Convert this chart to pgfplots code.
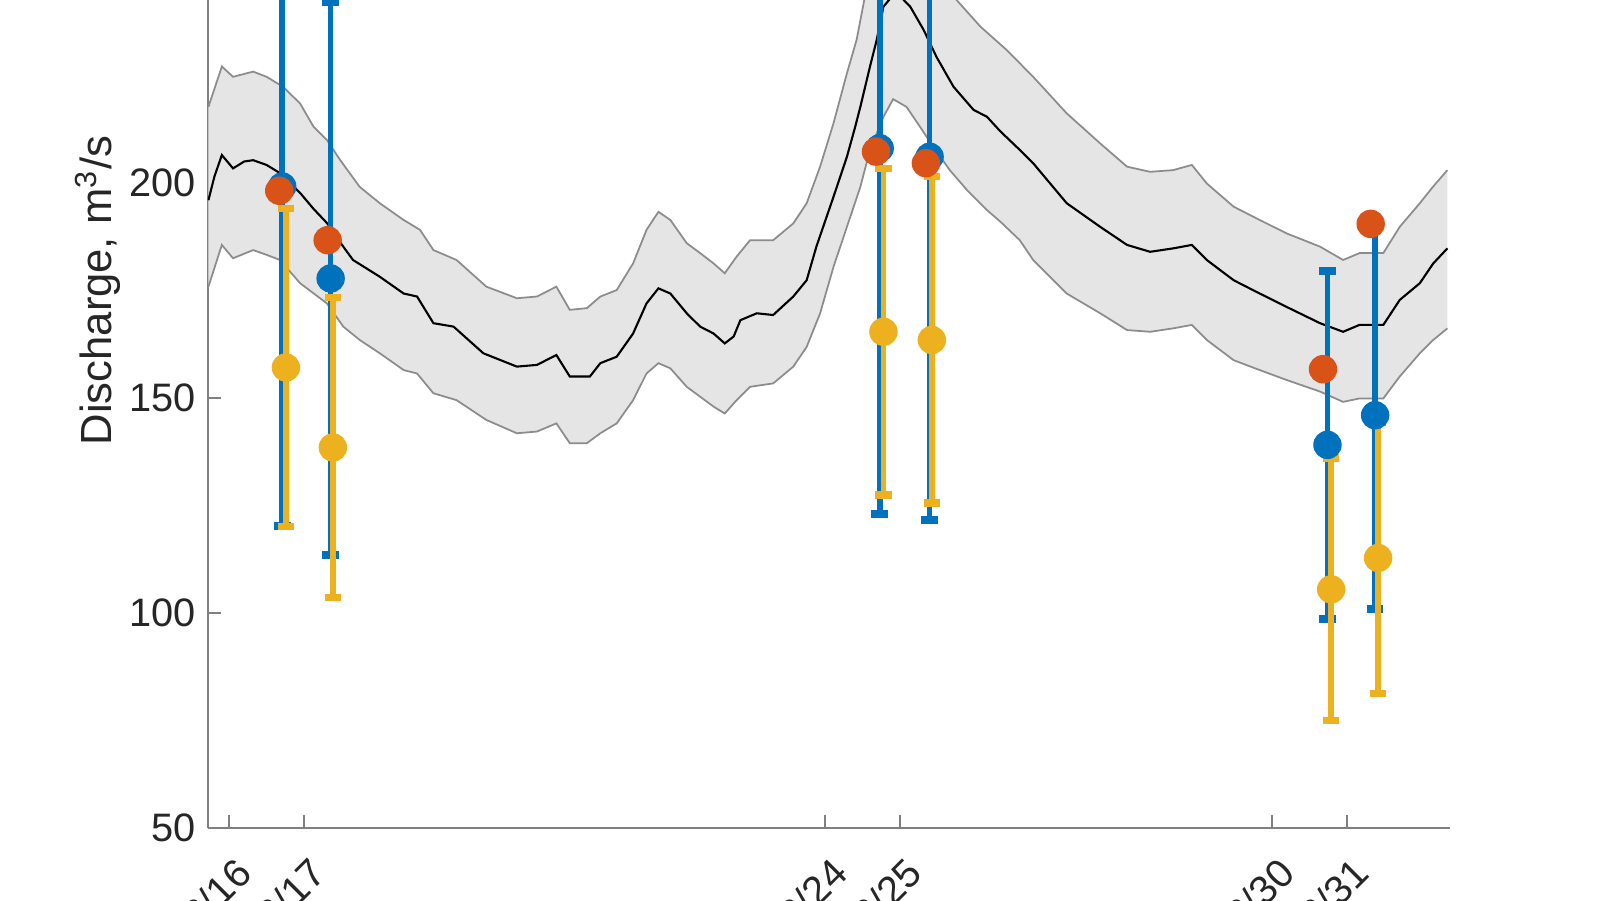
\documentclass[border=0pt]{standalone}
\usepackage{fontspec}
\setmainfont{Liberation Sans}
\usepackage{pgfplots}
\pgfplotsset{compat=1.18}
\definecolor{mblue}{rgb}{0,0.447,0.741}
\definecolor{morange}{rgb}{0.85,0.325,0.098}
\definecolor{myellow}{rgb}{0.929,0.694,0.125}
\definecolor{bandfill}{RGB}{229,229,229}
\definecolor{bandedge}{RGB}{140,140,140}
\definecolor{axcol}{RGB}{128,128,128}
\definecolor{txtcol}{RGB}{38,38,38}
\begin{document}
\begin{tikzpicture}
\begin{axis}[
  scale only axis,
  width=12.42cm, height=10.75cm,
  xmin=-0.286, xmax=16.385,
  ymin=50, ymax=300,
  axis x line*=bottom, axis y line*=left,
  axis line style={draw=axcol, line width=0.6pt},
  tick align=inside,
  major tick length=0.127cm,
  tick style={draw=axcol, line width=0.6pt},
  ytick={50,100,150,200,250,300},
  xtick={0,1,8,9,14,15},
  xticklabels={3/16,3/17,3/24,3/25,3/30,3/31},
  /pgf/number format/assume math mode=true,
  tick label style={font=\fontsize{11.3}{13}\selectfont, text=txtcol},
  xticklabel style={xshift=0.042cm, yshift=-0.267cm, rotate=45, anchor=north east, inner sep=0pt},
  ylabel={Discharge, m\textsuperscript{3}/s},
  ylabel style={font=\fontsize{12.4}{14}\selectfont, text=txtcol, at={(axis description cs:-0.0775,0.5)}, anchor=base},
]
% band (upper forward, lower reversed)
\addplot[fill=bandfill, draw=none] table {
d v
-0.28 217.7
-0.10 227.1
0.05 224.7
0.32 225.9
0.50 224.7
0.72 222.4
0.95 218.5
1.13 213.1
1.31 210.0
1.49 205.3
1.75 199.1
2.02 195.3
2.34 191.4
2.56 189.1
2.74 184.4
3.05 182.1
3.45 175.9
3.86 173.2
4.13 173.6
4.39 175.9
4.57 170.5
4.80 170.9
4.98 173.6
5.20 175.1
5.42 181.3
5.60 189.1
5.76 193.3
5.92 191.4
6.14 186.0
6.32 183.7
6.50 181.3
6.65 179.0
6.81 182.9
6.99 186.7
7.30 186.7
7.57 190.6
7.75 195.3
7.93 203.8
8.11 213.9
8.29 225.5
8.42 233.3
8.55 245.0
8.70 256.0
8.85 265.0
9.00 267.0
9.15 265.0
9.35 258.0
9.55 250.0
9.76 242.6
10.08 236.4
10.43 231.0
10.79 224.7
11.24 216.2
11.69 209.2
12.05 203.8
12.36 202.6
12.67 203.0
12.92 204.2
13.12 199.9
13.48 194.5
13.83 191.4
14.19 188.3
14.64 185.2
14.95 182.1
15.17 183.7
15.49 183.7
15.71 189.8
15.98 195.3
16.16 199.2
16.35 203.0
16.35 166.2
16.16 163.5
15.98 160.4
15.71 155.0
15.49 149.9
15.17 149.9
14.95 149.1
14.64 151.5
14.19 154.2
13.83 156.5
13.48 158.8
13.12 163.5
12.92 167.0
12.67 166.2
12.36 165.4
12.05 165.8
11.69 169.7
11.24 174.3
10.79 182.1
10.61 186.7
10.35 191.0
10.17 193.7
9.90 198.4
9.67 203.0
9.45 208.4
9.27 213.1
9.09 217.7
8.91 219.5
8.78 215.4
8.60 207.7
8.47 199.1
8.29 189.8
8.11 180.5
7.93 169.7
7.75 161.9
7.57 157.3
7.30 153.4
6.99 152.6
6.81 149.5
6.65 146.4
6.50 148.0
6.32 150.3
6.14 152.6
5.92 156.9
5.76 158.1
5.60 155.7
5.42 149.5
5.20 144.1
4.98 141.8
4.80 139.5
4.57 139.5
4.39 144.1
4.13 142.2
3.86 141.8
3.45 144.9
3.05 149.5
2.74 151.1
2.52 155.7
2.34 156.5
2.02 160.4
1.75 163.5
1.53 166.6
1.31 172.0
0.95 176.7
0.68 182.1
0.50 183.3
0.32 184.4
0.05 182.5
-0.10 185.6
-0.28 175.9
};
\addplot[draw=bandedge, line width=0.5pt] table {
d v
-0.28 217.7
-0.10 227.1
0.05 224.7
0.32 225.9
0.50 224.7
0.72 222.4
0.95 218.5
1.13 213.1
1.31 210.0
1.49 205.3
1.75 199.1
2.02 195.3
2.34 191.4
2.56 189.1
2.74 184.4
3.05 182.1
3.45 175.9
3.86 173.2
4.13 173.6
4.39 175.9
4.57 170.5
4.80 170.9
4.98 173.6
5.20 175.1
5.42 181.3
5.60 189.1
5.76 193.3
5.92 191.4
6.14 186.0
6.32 183.7
6.50 181.3
6.65 179.0
6.81 182.9
6.99 186.7
7.30 186.7
7.57 190.6
7.75 195.3
7.93 203.8
8.11 213.9
8.29 225.5
8.42 233.3
8.55 245.0
8.70 256.0
8.85 265.0
9.00 267.0
9.15 265.0
9.35 258.0
9.55 250.0
9.76 242.6
10.08 236.4
10.43 231.0
10.79 224.7
11.24 216.2
11.69 209.2
12.05 203.8
12.36 202.6
12.67 203.0
12.92 204.2
13.12 199.9
13.48 194.5
13.83 191.4
14.19 188.3
14.64 185.2
14.95 182.1
15.17 183.7
15.49 183.7
15.71 189.8
15.98 195.3
16.16 199.2
16.35 203.0
};
\addplot[draw=bandedge, line width=0.5pt] table {
d v
-0.28 175.9
-0.10 185.6
0.05 182.5
0.32 184.4
0.50 183.3
0.68 182.1
0.95 176.7
1.31 172.0
1.53 166.6
1.75 163.5
2.02 160.4
2.34 156.5
2.52 155.7
2.74 151.1
3.05 149.5
3.45 144.9
3.86 141.8
4.13 142.2
4.39 144.1
4.57 139.5
4.80 139.5
4.98 141.8
5.20 144.1
5.42 149.5
5.60 155.7
5.76 158.1
5.92 156.9
6.14 152.6
6.32 150.3
6.50 148.0
6.65 146.4
6.81 149.5
6.99 152.6
7.30 153.4
7.57 157.3
7.75 161.9
7.93 169.7
8.11 180.5
8.29 189.8
8.47 199.1
8.60 207.7
8.78 215.4
8.91 219.5
9.09 217.7
9.27 213.1
9.45 208.4
9.67 203.0
9.90 198.4
10.17 193.7
10.35 191.0
10.61 186.7
10.79 182.1
11.24 174.3
11.69 169.7
12.05 165.8
12.36 165.4
12.67 166.2
12.92 167.0
13.12 163.5
13.48 158.8
13.83 156.5
14.19 154.2
14.64 151.5
14.95 149.1
15.17 149.9
15.49 149.9
15.71 155.0
15.98 160.4
16.16 163.5
16.35 166.2
};
\addplot[black, line width=0.6pt] table {
d v
-0.28 196.0
-0.20 201.5
-0.10 206.5
0.05 203.4
0.20 205.0
0.32 205.3
0.50 204.2
0.68 202.3
0.95 197.7
1.13 194.0
1.31 190.7
1.53 185.2
1.66 182.1
2.02 178.2
2.34 174.3
2.52 173.6
2.74 167.4
3.01 166.6
3.41 160.4
3.86 157.3
4.13 157.7
4.39 160.0
4.57 155.0
4.84 155.0
4.98 158.1
5.20 159.6
5.42 165.0
5.60 172.0
5.76 175.5
5.92 174.3
6.14 169.7
6.32 166.6
6.50 165.0
6.65 162.7
6.77 164.3
6.86 168.1
7.08 169.7
7.30 169.3
7.57 173.6
7.75 177.4
7.88 185.2
8.11 196.8
8.29 206.1
8.40 213.0
8.47 217.7
8.60 227.1
8.69 233.3
8.78 241.0
8.90 243.5
9.00 243.5
9.14 241.0
9.32 235.6
9.49 229.4
9.72 222.4
9.99 217.0
10.17 215.4
10.35 212.0
10.61 207.7
10.79 204.6
11.24 195.3
11.69 189.8
12.05 185.6
12.36 184.0
12.67 184.8
12.92 185.6
13.12 182.1
13.48 177.4
13.83 174.3
14.19 171.2
14.64 167.4
14.95 165.4
15.17 167.0
15.49 167.0
15.71 172.8
15.98 176.7
16.16 181.3
16.35 184.8
};
% blue
\addplot[only marks, mark=*, mark size=0.135cm, color=mblue,
  error bars/.cd, y dir=both, y explicit,
  error bar style={line width=1.6pt, color=mblue},
  error mark options={rotate=90, mark size=0.083cm, line width=2.2pt, color=mblue}]
  table[x=d, y=v, y error=e] {
d v e
0.71 199.2 79.0
1.36 177.8 64.3
8.73 208.1 85.1
9.40 206.1 84.5
14.74 139.1 40.5
15.38 146.0 45.0
};
% yellow
\addplot[only marks, mark=*, mark size=0.135cm, color=myellow,
  error bars/.cd, y dir=both, y explicit,
  error bar style={line width=1.6pt, color=myellow},
  error mark options={rotate=90, mark size=0.083cm, line width=2.2pt, color=myellow}]
  table[x=d, y=v, y error=e] {
d v e
0.76 157.1 37.0
1.39 138.5 34.9
8.78 165.4 38.0
9.43 163.5 38.0
14.79 105.5 30.5
15.42 112.8 31.5
};
% orange
\addplot[only marks, mark=*, mark size=0.135cm, color=morange] table {
d v
0.67 198.2
1.32 186.7
8.68 207.3
9.35 204.6
14.68 156.7
15.32 190.5
};
\end{axis}
\pgfresetboundingbox
\path[use as bounding box] (-2.08,-0.72) rectangle (13.92,8.28);
\end{tikzpicture}
\end{document}
